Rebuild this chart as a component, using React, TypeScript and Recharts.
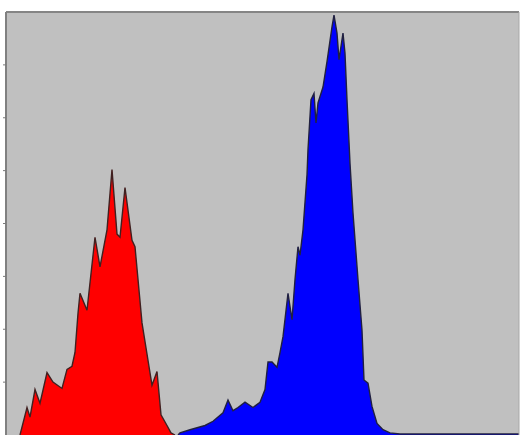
import React from "react";
import {
  ComposedChart,
  Area,
  XAxis,
  YAxis,
  CartesianGrid,
  ReferenceLine,
} from "recharts";

// Flow cytometry histogram: channel (x) vs. event count (y)
const redChannels = [13, 20, 23, 28, 33, 40, 46, 55, 60, 65, 68, 71, 73, 80, 88, 93, 100, 105, 110, 113, 118, 125, 128, 135, 145, 150, 154, 160, 164, 168];
const redCounts = [0, 26, 17, 43, 30, 59, 50, 44, 62, 65, 78, 115, 134, 118, 187, 159, 194, 251, 190, 187, 234, 184, 178, 106, 47, 60, 19, 9, 2, 0];

const blueChannels = [171, 173, 183, 198, 206, 216, 221, 226, 231, 238, 246, 253, 258, 261, 265, 270, 273, 276, 281, 285, 288, 291, 293, 296, 300, 301, 304, 307, 309, 311, 316, 320, 325, 327, 330, 332, 336, 338, 340, 343, 346, 351, 355, 357, 361, 365, 370, 376, 383, 393, 420, 440, 470, 500, 512];
const blueCounts = [0, 2, 5, 9, 13, 21, 33, 23, 26, 31, 26, 31, 43, 69, 69, 64, 78, 93, 134, 109, 147, 178, 170, 194, 246, 270, 317, 323, 295, 314, 329, 353, 386, 397, 380, 355, 380, 361, 317, 257, 210, 147, 99, 52, 49, 27, 11, 5, 2, 1, 1, 1, 1, 1, 1];

const yTicks = [50, 100, 150, 200, 250, 300, 350];

type Row = { ch: number; red?: number; blue?: number };

const data: Row[] = [
  ...redChannels.map((ch, i) => ({ ch, red: redCounts[i] })),
  ...blueChannels.map((ch, i) => ({ ch, blue: blueCounts[i] })),
].sort((a, b) => a.ch - b.ch);

const EmptyTick = () => <g />;

export default function App() {
  return (
    <div style={{ position: "absolute", left: 0, top: 0, width: 521, height: 435, background: "#ffffff", overflow: "hidden" }}>
      <ComposedChart
        width={521}
        height={435}
        data={data}
        margin={{ top: 12, right: 2, left: 0, bottom: 0 }}
      >
        <CartesianGrid fill="#c0c0c0" horizontal={false} vertical={false} stroke="none" />
        <XAxis dataKey="ch" type="number" domain={[-1, 512]} hide allowDataOverflow />
        <YAxis
          type="number"
          domain={[0, 400]}
          ticks={yTicks}
          width={6}
          tick={EmptyTick}
          tickSize={3}
          tickLine={{ stroke: "#7a7a7a", strokeWidth: 1 }}
          axisLine={{ stroke: "#808080", strokeWidth: 2 }}
          allowDataOverflow
        />
        <Area
          type="linear"
          dataKey="red"
          fill="#ff0000"
          fillOpacity={1}
          stroke="#402020"
          strokeWidth={1.4}
          isAnimationActive={false}
          dot={false}
          activeDot={false}
        />
        <Area
          type="linear"
          dataKey="blue"
          fill="#0000ff"
          fillOpacity={1}
          stroke="#202040"
          strokeWidth={1.4}
          isAnimationActive={false}
          dot={false}
          activeDot={false}
        />
        <ReferenceLine y={400} stroke="#858585" strokeWidth={2} />
        <ReferenceLine x={512} stroke="#a8a8a8" strokeWidth={1} />
      </ComposedChart>
    </div>
  );
}
